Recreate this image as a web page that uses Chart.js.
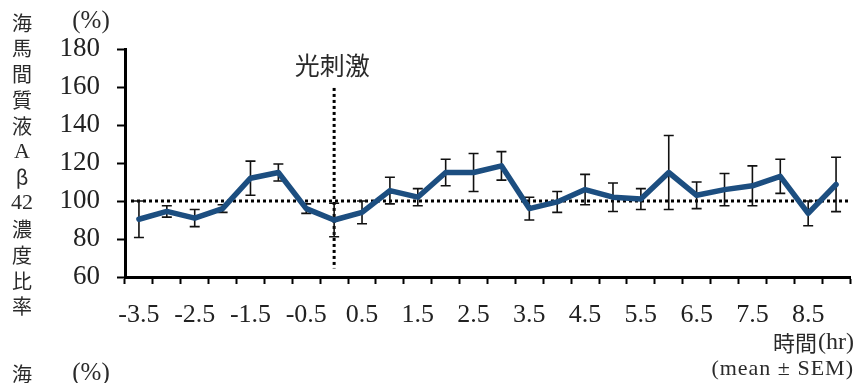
<!DOCTYPE html>
<html>
<head>
<meta charset="utf-8">
<script src="https://cdn.jsdelivr.net/npm/chart.js@4/dist/chart.umd.min.js"></script>
<style>
  html, body { margin: 0; padding: 0; background: #ffffff; }
  #wrap { width: 859px; height: 383px; position: relative; }
</style>
</head>
<body>
<div id="wrap"><canvas id="c" width="859" height="383"></canvas></div>
<script>
// Time points (hr), relative to light stimulation at 0
const timeLabels = ['-3.5','-3','-2.5','-2','-1.5','-1','-0.5','0','0.5','1','1.5','2','2.5','3',
                    '3.5','4','4.5','5','5.5','6','6.5','7','7.5','8','8.5','9'];
// Hippocampal interstitial fluid Aβ42 concentration ratio (%), mean
const meanValues = [90.4, 94.5, 91, 96, 112, 115, 96, 90, 94, 105.5, 102, 115, 115, 118.5,
                    96, 99.5, 106, 102, 101, 115, 103, 106, 108, 113, 93.5, 108.7];
// Standard error of the mean
const semValues = [9.6, 3, 4.5, 2, 9, 4.5, 2.5, 8.8, 6, 7, 4.5, 7, 10, 7.5,
                   6, 5.5, 8, 7.5, 5.5, 19.5, 7, 8.5, 10.5, 9, 6.5, 14.3];
// Labelled ticks on the time axis
const shownTimeTicks = ['-3.5','-2.5','-1.5','-0.5','0.5','1.5','2.5','3.5','4.5','5.5','6.5','7.5','8.5'];
const yTicks = [60, 80, 100, 120, 140, 160, 180];
const baselineValue = 100;
const stimulationTime = '0';
const yTitleChars = ['海','馬','間','質','液','A','β','42','濃','度','比','率'];

const SERIF = '"Liberation Serif", "Times New Roman", serif';
const CJK = '"Noto Sans CJK JP", "Noto Sans CJK SC", sans-serif';

// Dotted reference lines: baseline 100% and the stimulation time
const referenceLines = {
  id: 'referenceLines',
  beforeDatasetsDraw(chart) {
    const { ctx, chartArea, scales: { x, y } } = chart;
    ctx.save();
    ctx.strokeStyle = '#000';
    ctx.lineWidth = 3;
    ctx.setLineDash([3, 3]);
    const yb = y.getPixelForValue(baselineValue);
    ctx.beginPath();
    ctx.moveTo(chartArea.left + 6, yb);
    ctx.lineTo(chartArea.right, yb);
    ctx.stroke();
    const xs = x.getPixelForValue(timeLabels.indexOf(stimulationTime));
    ctx.beginPath();
    ctx.moveTo(xs, y.getPixelForValue(159.5));
    ctx.lineTo(xs, y.getPixelForValue(64.5));
    ctx.stroke();
    ctx.restore();
  }
};

// Error bars (mean ± SEM), drawn beneath the line
const errorBars = {
  id: 'errorBars',
  beforeDatasetsDraw(chart) {
    const { ctx, scales: { x, y } } = chart;
    ctx.save();
    ctx.strokeStyle = '#111';
    ctx.lineWidth = 1.6;
    ctx.setLineDash([]);
    const cap = 5;
    meanValues.forEach((m, i) => {
      const px = x.getPixelForValue(i);
      const top = y.getPixelForValue(m + semValues[i]);
      const bot = y.getPixelForValue(m - semValues[i]);
      ctx.beginPath();
      ctx.moveTo(px, top); ctx.lineTo(px, bot);
      ctx.moveTo(px - cap, top); ctx.lineTo(px + cap, top);
      ctx.moveTo(px - cap, bot); ctx.lineTo(px + cap, bot);
      ctx.stroke();
    });
    ctx.restore();
  }
};

// Axis titles and annotations
const annotations = {
  id: 'annotations',
  afterDraw(chart) {
    const { ctx, scales: { x, y } } = chart;
    ctx.save();
    ctx.fillStyle = '#2a2a2a';
    ctx.textBaseline = 'middle';
    ctx.textAlign = 'center';
    // vertical y-axis title
    yTitleChars.forEach((ch, i) => {
      const isLatin = /[A-Za-z0-9]/.test(ch);
      ctx.font = isLatin ? '22px ' + SERIF : '20px ' + CJK;
      ctx.fillText(ch, 22, 23 + i * 25.8);
    });
    ctx.font = '20px ' + CJK;
    ctx.fillText('海', 22, 374);
    ctx.font = '25px ' + SERIF;
    ctx.fillText('(%)', 91, 21);
    ctx.fillText('(%)', 91, 373);
    // stimulation label
    const xs = x.getPixelForValue(timeLabels.indexOf(stimulationTime));
    ctx.font = '25px ' + CJK;
    ctx.fillText('光刺激', xs - 2, 65);
    // time axis title
    ctx.textAlign = 'right';
    const unit = '(hr)';
    ctx.font = '24px ' + SERIF;
    const uw = ctx.measureText(unit).width;
    ctx.fillText(unit, 854, 343);
    ctx.font = '22px ' + CJK;
    ctx.fillText('時間', 854 - uw - 1, 343);
    ctx.font = '22px ' + SERIF;
    ctx.letterSpacing = '1px';
    ctx.fillText('(mean ± SEM)', 854, 369);
    ctx.restore();
  }
};

new Chart(document.getElementById('c'), {
  type: 'line',
  data: {
    labels: timeLabels,
    datasets: [{
      data: meanValues,
      borderColor: '#1c4e80',
      borderWidth: 5.5,
      tension: 0,
      pointRadius: 0,
      pointHoverRadius: 0,
      borderJoinStyle: 'round',
      borderCapStyle: 'round',
      fill: false
    }]
  },
  options: {
    responsive: false,
    animation: false,
    events: [],
    layout: { padding: { top: 49, right: 9, left: 0, bottom: 0 } },
    plugins: { legend: { display: false }, tooltip: { enabled: false } },
    scales: {
      x: {
        type: 'category',
        offset: true,
        afterFit(scale) { scale.height = 106; },
        border: { display: true, color: '#000', width: 3 },
        grid: { offset: true, drawOnChartArea: false, drawTicks: true, tickLength: 7, color: '#000', tickWidth: 2 },
        ticks: {
          autoSkip: false, maxRotation: 0, minRotation: 0,
          color: '#222', padding: 16,
          font: { family: SERIF, size: 26 },
          callback(v, i) { const l = timeLabels[i]; return shownTimeTicks.includes(l) ? l : ''; }
        }
      },
      y: {
        min: 60, max: 180,
        afterFit(scale) { scale.width = 125; },
        afterBuildTicks(scale) { scale.ticks = yTicks.map(v => ({ value: v })); },
        border: { display: true, color: '#000', width: 3 },
        grid: { drawOnChartArea: false, drawTicks: true, tickLength: 8, color: '#000', tickWidth: 2 },
        ticks: {
          color: '#222', padding: 17,
          font: { family: SERIF, size: 27 }
        }
      }
    }
  },
  plugins: [referenceLines, errorBars, annotations]
});
</script>
</body>
</html>
